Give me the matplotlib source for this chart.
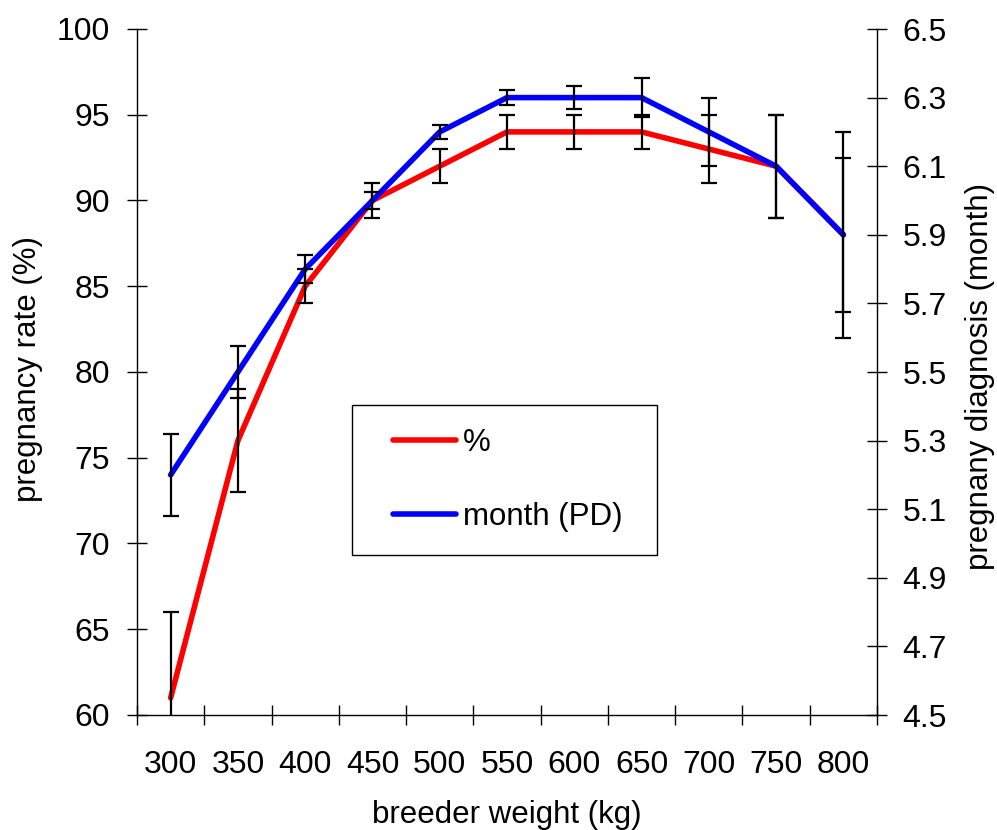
import matplotlib
matplotlib.use("Agg")
import matplotlib.pyplot as plt
import numpy as np
from matplotlib.lines import Line2D
from matplotlib.legend_handler import HandlerLine2D

plt.rcParams['font.family'] = ['Liberation Sans', 'DejaVu Sans']

weights = ['300', '350', '400', '450', '500', '550', '600', '650', '700', '750', '800']
preg_rate = [61, 76, 85, 90, 92, 94, 94, 94, 93, 92, 88]
preg_err = [5, 3, 1, 1, 1, 1, 1, 1, 2, 3, 6]
pd_month = [5.2, 5.5, 5.8, 6.0, 6.2, 6.3, 6.3, 6.3, 6.2, 6.1, 5.9]
pd_err = [0.12, 0.075, 0.04, 0.025, 0.02, 0.0225, 0.0325, 0.0575, 0.1, 0.15, 0.225]
left_ticks = [60, 65, 70, 75, 80, 85, 90, 95, 100]
right_ticks = [4.5, 4.7, 4.9, 5.1, 5.3, 5.5, 5.7, 5.9, 6.1, 6.3, 6.5]

W, H = 997, 830
fig = plt.figure(figsize=(W / 100, H / 100), dpi=100)
x0, x1, y0, y1 = 137, 877, 29, 715
pos = [x0 / W, 1 - y1 / H, (x1 - x0) / W, (y1 - y0) / H]

TICK_FS = 23
LAB_FS = 22.5

ax = fig.add_axes(pos)
ax2 = ax.twinx()
ax3 = fig.add_axes(pos, sharex=ax)
ax3.set_ylim(60, 100)
ax3.patch.set_visible(False)
ax3.axis('off')

x = np.arange(len(weights))

# lines
ax.plot(x, preg_rate, color='#ff0000', lw=4, solid_capstyle='round', solid_joinstyle='round', zorder=2)
ax2.plot(x, pd_month, color='#0000ff', lw=4, solid_capstyle='round', solid_joinstyle='round', zorder=2)
# error bars
ax2.errorbar(x, pd_month, yerr=pd_err, fmt='none', ecolor='black', elinewidth=1.6,
             capsize=6, capthick=1.6, zorder=3)
ax3.errorbar(x, preg_rate, yerr=preg_err, fmt='none', ecolor='black', elinewidth=1.6,
             capsize=6, capthick=1.6, zorder=3)

ax.set_xlim(-0.5, len(weights) - 0.5)
ax.set_ylim(60, 100)
ax2.set_ylim(4.5, 6.5)

ax.set_yticks(left_ticks)
ax.set_yticklabels([str(v) for v in left_ticks])
ax2.set_yticks(right_ticks)
ax2.set_yticklabels([f'{v:.1f}' for v in right_ticks])

ax.set_xticks(x)
ax.set_xticklabels(weights)
ax.set_xticks(np.arange(-0.5, len(weights)), minor=True)
ax.tick_params(axis='x', which='major', length=0, pad=25, labelsize=TICK_FS)
ax.tick_params(axis='x', which='minor', direction='inout', length=14, width=1)
ax.tick_params(axis='y', which='major', direction='inout', length=14.4, width=1, pad=12, labelsize=TICK_FS)
ax2.tick_params(axis='y', which='major', direction='inout', length=14.4, width=1, pad=11, labelsize=TICK_FS)

for a in (ax, ax2):
    a.spines['top'].set_visible(False)
    for s in a.spines.values():
        s.set_linewidth(1)
        s.set_color('black')
ax2.spines['left'].set_visible(False)
ax2.spines['bottom'].set_visible(False)
ax.spines['right'].set_visible(False)

fig.text(507 / W, 1 - 823 / H, 'breeder weight (kg)', ha='center', va='baseline', fontsize=LAB_FS)
fig.text(28 / W, 1 - 369 / H, 'pregnancy rate (%)', ha='center', va='center', rotation=90, fontsize=LAB_FS)
fig.text(980 / W, 1 - 376 / H, 'pregnany diagnosis (month)', ha='center', va='center', rotation=90, fontsize=LAB_FS)

# legend
handles = [Line2D([], [], color='#ff0000', lw=4, solid_capstyle='round'),
           Line2D([], [], color='#0000ff', lw=4, solid_capstyle='round')]
lx0, lx1, ly0, ly1 = 352, 657, 405, 555
bb = ((lx0 - x0) / (x1 - x0), (y1 - ly1) / (y1 - y0), (lx1 - lx0) / (x1 - x0), (ly1 - ly0) / (y1 - y0))
hm = {h: HandlerLine2D(xpad=0.57) for h in handles}
leg = ax3.legend(handles, ['%', 'month (PD)'], loc='lower left', bbox_to_anchor=bb, mode='expand',
                 fontsize=LAB_FS, frameon=True, fancybox=False, edgecolor='black', framealpha=1,
                 borderpad=0.74, labelspacing=1.41, handlelength=2.59, handletextpad=0.22,
                 borderaxespad=0, handler_map=hm)
leg.get_frame().set_linewidth(1)

fig.savefig('out.png', dpi=100)
